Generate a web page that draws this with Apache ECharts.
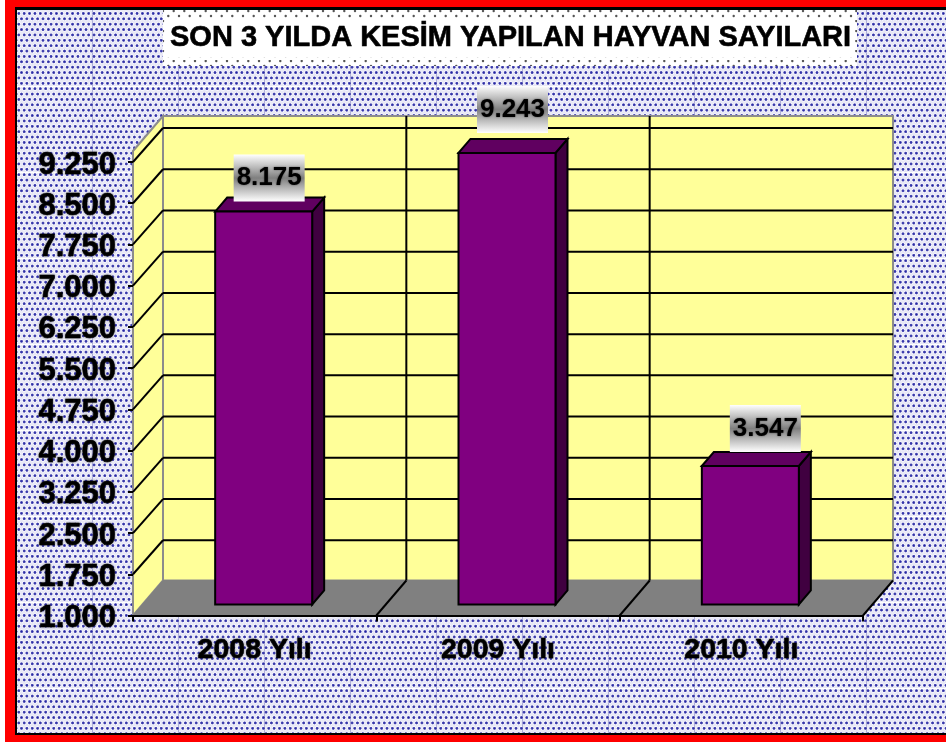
<!DOCTYPE html>
<html><head><meta charset="utf-8">
<style>html,body{margin:0;padding:0;background:#fff}#c{width:946px;height:742px}</style>
<script src="https://cdn.jsdelivr.net/npm/echarts@6/dist/echarts.min.js"></script>
</head><body><div id="c"></div>
<script>
const titleText = 'SON 3 YILDA KESİM YAPILAN HAYVAN SAYILARI';
const categories = ['2008 Yılı', '2009 Yılı', '2010 Yılı'];
const barValues = [8175, 9243, 3547];
const yTicks = [1000, 1750, 2500, 3250, 4000, 4750, 5500, 6250, 7000, 7750, 8500, 9250];
const wallTopValue = 9450;

// layout constants of the fake 3D box
const FONT = '"Liberation Sans", Arial, sans-serif';
const WALL_DX = 30, WALL_DY = 35, LINE_DY = 34;
const BAR_OFF_X = 9, BAR_TOP_OFF = 9.5, BAR_BASE_OFF = 11, BAR_DX = 12, BAR_DY = 14, BAR_W = 97;
const LABEL_W = 71, LABEL_H = 47;
const labelNudge = [[5.5, 10], [5.5, 20], [15, 14]];

function fmt(v) { return String(v).replace(/\B(?=(\d{3})+$)/g, '.'); }

function dotTile() {
  const c = document.createElement('canvas'); c.width = 86; c.height = 86;
  const g = c.getContext('2d');
  g.fillStyle = '#e8e8f6'; g.fillRect(0, 0, 86, 86);
  const n = 16, s = 86 / n;
  for (let r = 0; r < n; r++) for (let q = -1; q <= n; q++) {
    const x = (q + (r % 2 ? 0.5 : 0) + 0.5) * s, y = (r + 0.5) * s;
    const h = g.createRadialGradient(x, y, 0, x, y, 2.6);
    h.addColorStop(0, '#2020a0'); h.addColorStop(0.42, '#5252b6'); h.addColorStop(0.7, '#f6f6fd'); h.addColorStop(1, 'rgba(246,246,253,0)');
    g.fillStyle = h; g.beginPath(); g.arc(x, y, 2.6, 0, 7); g.fill();
  }
  g.fillStyle = '#ffffff'; g.fillRect(0, 0, 86, 1);
  g.fillStyle = 'rgba(40,40,150,0.3)'; g.fillRect(6, 0, 1, 86);
  return c;
}
function titleTile() {
  const c = document.createElement('canvas'); c.width = 32; c.height = 10;
  const g = c.getContext('2d');
  g.fillStyle = '#fff'; g.fillRect(0, 0, 32, 10);
  g.fillStyle = '#555';
  [[3, 1], [13.7, 1], [24.3, 1], [8.3, 6], [19, 6], [29.7, 6]].forEach(p => { g.beginPath(); g.arc(p[0], p[1], 1.2, 0, 7); g.fill(); });
  return c;
}

function renderWalls(params, api) {
  const cs = params.coordSys;
  const L = cs.x, R = cs.x + cs.width, B = cs.y + cs.height, T = api.coord([0, wallTopValue])[1];
  const w = { stroke: '#8c8c8c', lineWidth: 2 };
  const poly = (pts, style) => ({ type: 'polygon', shape: { points: pts }, style });
  const kids = [
    poly([[L + WALL_DX, T - WALL_DY], [R + WALL_DX, T - WALL_DY], [R + WALL_DX, B - WALL_DY], [L + WALL_DX, B - WALL_DY]], { fill: '#FFFF99', ...w }),
    poly([[L, T], [L + WALL_DX, T - WALL_DY], [L + WALL_DX, B - WALL_DY], [L, B]], { fill: '#FFFF99', ...w }),
    poly([[L, B], [L + WALL_DX, B - WALL_DY], [R + WALL_DX, B - WALL_DY], [R, B]], { fill: '#808080', stroke: '#808080', lineWidth: 1 })
  ];
  return { type: 'group', children: kids };
}
function renderGridLine(params, api) {
  const cs = params.coordSys;
  const y = api.coord([0, api.value(0)])[1];
  const L = cs.x, R = cs.x + cs.width;
  const ln = { stroke: '#000', lineWidth: 2 };
  return { type: 'group', children: [
    { type: 'line', shape: { x1: L, y1: y, x2: L + WALL_DX, y2: y - LINE_DY }, style: ln },
    { type: 'line', shape: { x1: L + WALL_DX, y1: y - LINE_DY, x2: R + WALL_DX, y2: y - LINE_DY }, style: ln }
  ]};
}
function renderDivider(params, api) {
  const cs = params.coordSys;
  const band = api.size([1, 0])[0];
  const x = cs.x + band * api.value(0);
  const B = cs.y + cs.height, T = api.coord([0, wallTopValue])[1];
  const ln = { stroke: '#000', lineWidth: 2 };
  const kids = [{ type: 'line', shape: { x1: x, y1: B, x2: x + WALL_DX, y2: B - WALL_DY }, style: ln }];
  if (api.value(0) < categories.length) kids.push({ type: 'line', shape: { x1: x + WALL_DX, y1: B - WALL_DY, x2: x + WALL_DX, y2: T - WALL_DY }, style: ln });
  return { type: 'group', children: kids };
}
function renderBar(params, api) {
  const p = api.coord([api.value(0), api.value(1)]);
  const b = api.coord([api.value(0), yTicks[0]]);
  const x0 = p[0] + BAR_OFF_X - BAR_W / 2, x1 = x0 + BAR_W;
  const yt = p[1] - BAR_TOP_OFF, yb = b[1] - BAR_BASE_OFF;
  const st = (f) => ({ fill: f, stroke: '#000', lineWidth: 2, lineJoin: 'miter' });
  return { type: 'group', children: [
    { type: 'polygon', shape: { points: [[x1, yt], [x1 + BAR_DX, yt - BAR_DY], [x1 + BAR_DX, yb - BAR_DY], [x1, yb]] }, style: st('#400040') },
    { type: 'polygon', shape: { points: [[x0, yt], [x0 + BAR_DX, yt - BAR_DY], [x1 + BAR_DX, yt - BAR_DY], [x1, yt]] }, style: st('#600060') },
    { type: 'rect', shape: { x: x0, y: yt, width: BAR_W, height: yb - yt }, style: st('#800080') }
  ]};
}
function renderLabel(params, api) {
  const i = api.value(0), p = api.coord([i, api.value(1)]);
  const n = labelNudge[i];
  const cx = p[0] + BAR_OFF_X + n[0];
  const bottom = p[1] - BAR_TOP_OFF - n[1];
  return { type: 'group', children: [
    { type: 'rect', shape: { x: cx - LABEL_W / 2, y: bottom - LABEL_H, width: LABEL_W, height: LABEL_H },
      style: { fill: { type: 'linear', x: 0, y: 0, x2: 0, y2: 1, colorStops: [
        { offset: 0, color: '#ffffff' }, { offset: 0.5, color: '#7f7f7f' }, { offset: 1, color: '#ffffff' }] } } },
    { type: 'text', style: { x: cx, y: bottom - LABEL_H / 2, text: fmt(api.value(1)), align: 'center', verticalAlign: 'middle',
      font: 'bold 26px ' + FONT, fill: '#000', textShadowColor: 'rgba(0,0,0,0.55)', textShadowBlur: 2 } }
  ]};
}

const chart = echarts.init(document.getElementById('c'), null, { renderer: 'canvas' });
const barData = barValues.map((v, i) => [i, v]);
chart.setOption({
  animation: false,
  backgroundColor: { image: dotTile(), repeat: 'repeat' },
  title: { text: titleText, left: 170, top: 23, padding: 0, z: 50,
    textStyle: { fontFamily: FONT, fontWeight: 'bold', fontSize: 29, color: '#000', textBorderColor: '#000', textBorderWidth: 0.6 } },
  grid: { left: 133, top: 162, width: 730, height: 453.5, containLabel: false },
  xAxis: { type: 'category', data: categories, z: 5,
    axisLine: { show: true, lineStyle: { color: '#000', width: 2 } },
    axisTick: { show: true, length: 6, lineStyle: { color: '#000', width: 2 }, alignWithLabel: false },
    axisLabel: { color: '#000', fontFamily: FONT, fontWeight: 'bold', fontSize: 28.5, margin: 20, textShadowColor: 'rgba(0,0,0,0.5)', textShadowBlur: 2, textBorderColor: '#000', textBorderWidth: 0.5 },
    splitLine: { show: false } },
  yAxis: { type: 'value', min: yTicks[0], max: yTicks[yTicks.length - 1], interval: yTicks[1] - yTicks[0], z: 5,
    axisLine: { show: false },
    axisTick: { show: true, length: 5, lineStyle: { color: '#000', width: 2 } },
    axisLabel: { color: '#000', fontFamily: FONT, fontWeight: 'bold', fontSize: 31, margin: 17, verticalAlign: 'top', lineHeight: 6, formatter: fmt, textShadowColor: 'rgba(0,0,0,0.5)', textShadowBlur: 2, textBorderColor: '#000', textBorderWidth: 0.5 },
    splitLine: { show: false } },
  graphic: [
    { type: 'rect', z: 1, shape: { x: 163, y: 9, width: 694, height: 57 }, style: { fill: { image: titleTile(), repeat: 'repeat' } } },
    { type: 'rect', z: 2, shape: { x: 165, y: 20, width: 690, height: 37 }, style: { fill: '#fff' } },
    { type: 'rect', z: 100, shape: { x: 0, y: 0, width: 5, height: 742 }, style: { fill: '#fff' } },
    { type: 'rect', z: 100, shape: { x: 5, y: 0, width: 941, height: 7 }, style: { fill: '#f00' } },
    { type: 'rect', z: 100, shape: { x: 5, y: 0, width: 10, height: 742 }, style: { fill: '#f00' } },
    { type: 'rect', z: 100, shape: { x: 5, y: 735, width: 941, height: 7 }, style: { fill: '#f00' } },
    { type: 'rect', z: 100, shape: { x: 15, y: 7, width: 931, height: 3 }, style: { fill: '#000' } },
    { type: 'rect', z: 100, shape: { x: 15, y: 7, width: 2, height: 728 }, style: { fill: '#000' } },
    { type: 'rect', z: 100, shape: { x: 15, y: 733, width: 931, height: 2 }, style: { fill: '#000' } }
  ],
  series: [
    { type: 'custom', name: 'walls', z: 1, silent: true, data: [[0]], encode: { x: -1, y: -1 }, renderItem: renderWalls, tooltip: { show: false } },
    { type: 'custom', name: 'gridlines', z: 2, silent: true, data: yTicks.slice(1).map(v => [v]), encode: { x: -1, y: -1 }, renderItem: renderGridLine },
    { type: 'custom', name: 'dividers', z: 3, silent: true, data: [[1], [2], [3]], encode: { x: -1, y: -1 }, renderItem: renderDivider },
    { type: 'custom', name: 'bars', z: 4, data: barData, encode: { x: 0, y: 1 }, renderItem: renderBar },
    { type: 'custom', name: 'labels', z: 6, data: barData, encode: { x: 0, y: 1 }, renderItem: renderLabel }
  ]
});
</script></body></html>
